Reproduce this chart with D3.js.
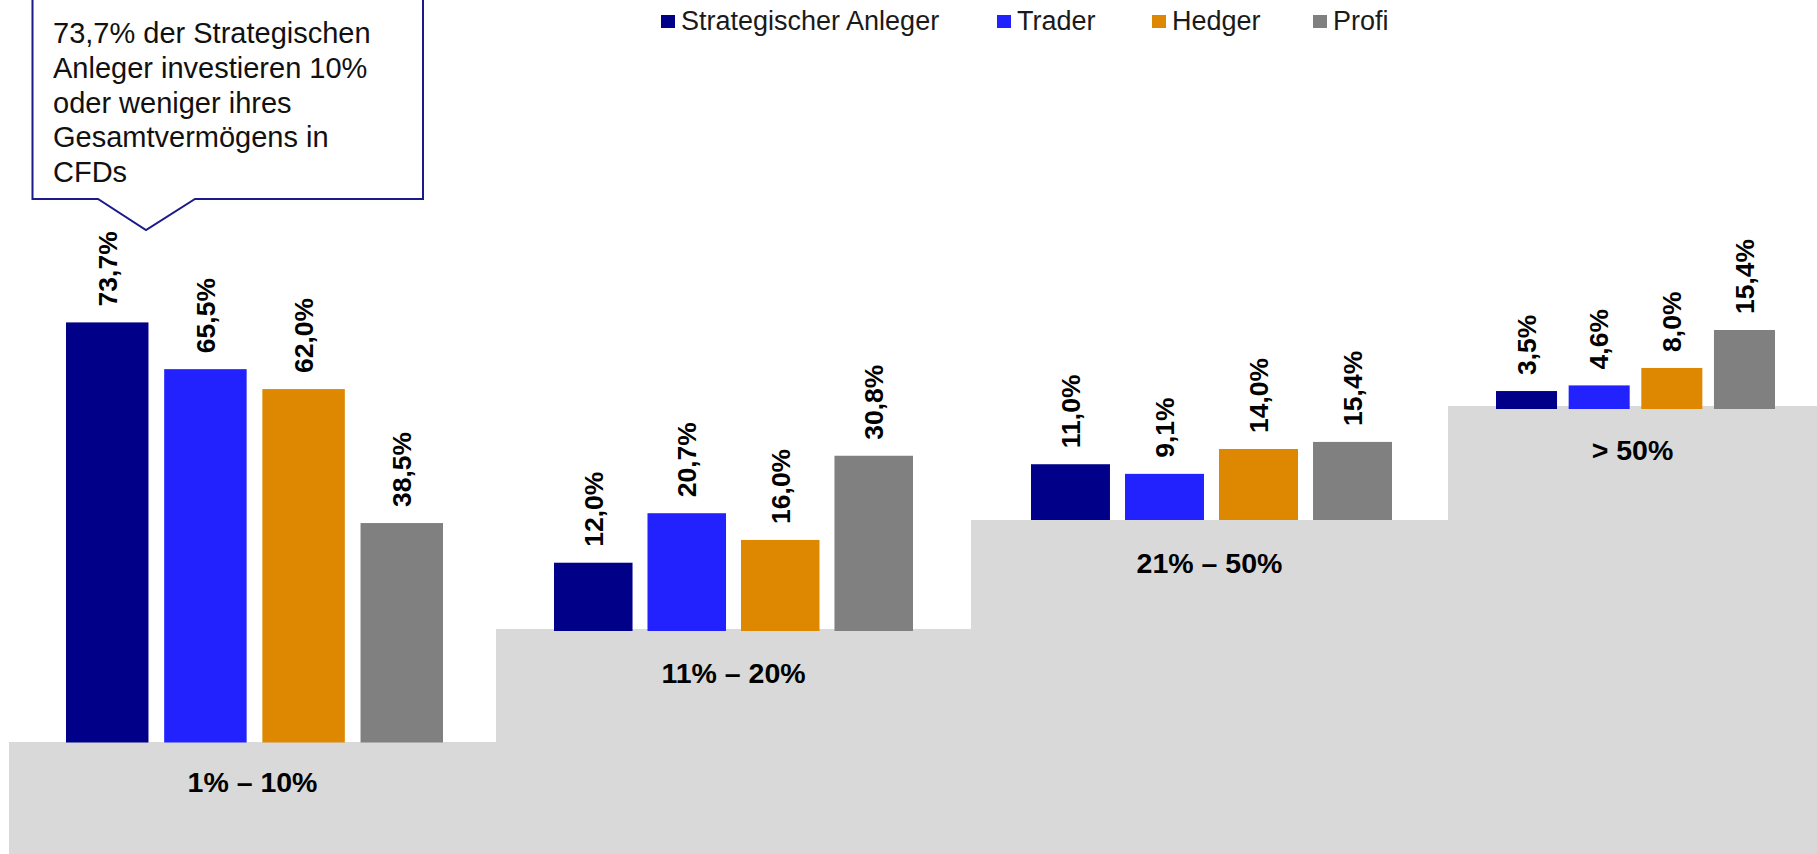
<!DOCTYPE html>
<html>
<head>
<meta charset="utf-8">
<script src="https://cdn.jsdelivr.net/npm/d3@7"></script>
<style>
  html, body { margin: 0; padding: 0; background: #ffffff; }
  svg { display: block; }
  text { font-family: "Liberation Sans", Arial, sans-serif; }
</style>
</head>
<body>
<svg id="chart" width="1817" height="854"></svg>
<script>
// ---- Data ----
const categories = ["1% \u2013 10%", "11% \u2013 20%", "21% \u2013 50%", "> 50%"];
const seriesNames = ["Strategischer Anleger", "Trader", "Hedger", "Profi"];
const strategischerAnleger = [73.7, 12.0, 11.0, 3.5];
const trader = [65.5, 20.7, 9.1, 4.6];
const hedger = [62.0, 16.0, 14.0, 8.0];
const profi = [38.5, 30.8, 15.4, 15.4];
const calloutLines = [
  "73,7% der Strategischen",
  "Anleger investieren 10%",
  "oder weniger ihres",
  "Gesamtverm\u00f6gens in",
  "CFDs"
];

// ---- Styles / layout ----
const colors = ["#000088", "#2222ff", "#dd8800", "#808080"];
const floorColor = "#d9d9d9";
const W = 1817, H = 854;
const layout = [
  { x0: 9,    x1: 496,  floor: 742, base: 742.5, bx0: 66,   bx1: 443,  k: 5.70, labelY: 792 },
  { x0: 496,  x1: 971,  floor: 629, base: 631,   bx0: 554,  bx1: 913,  k: 5.69, labelY: 683 },
  { x0: 971,  x1: 1448, floor: 520, base: 520,   bx0: 1031, bx1: 1392, k: 5.07, labelY: 573 },
  { x0: 1448, x1: 1817, floor: 406, base: 409,   bx0: 1496, bx1: 1775, k: 5.13, labelY: 460 }
];
const legendX = [661, 997, 1152, 1313];

const seriesValues = [strategischerAnleger, trader, hedger, profi];
const svg = d3.select("#chart");
const fmt = v => d3.format(".1f")(v).replace(".", ",") + "%";

// floors
svg.append("g").selectAll("rect")
  .data(layout)
  .join("rect")
  .attr("x", d => d.x0)
  .attr("y", d => d.floor)
  .attr("width", d => d.x1 - d.x0)
  .attr("height", d => H - d.floor)
  .attr("fill", floorColor);

// category labels
svg.append("g").selectAll("text")
  .data(categories)
  .join("text")
  .attr("x", (d, i) => (layout[i].x0 + layout[i].x1) / 2)
  .attr("y", (d, i) => layout[i].labelY)
  .attr("text-anchor", "middle")
  .attr("font-size", "28.5px")
  .attr("font-weight", "bold")
  .attr("fill", "#000")
  .text(d => d);

// bars per category
categories.forEach((cat, gi) => {
  const L = layout[gi];
  const x = d3.scaleBand().domain(seriesNames).range([L.bx0, L.bx1]).paddingInner(0.16).paddingOuter(0);
  const y = d3.scaleLinear().domain([0, 100]).range([L.base, L.base - 100 * L.k]);
  const data = seriesNames.map((s, si) => ({ s, si, v: seriesValues[si][gi] }));
  const g = svg.append("g");
  g.selectAll("rect")
    .data(data)
    .join("rect")
    .attr("x", d => x(d.s))
    .attr("y", d => y(d.v))
    .attr("width", x.bandwidth())
    .attr("height", d => y(0) - y(d.v))
    .attr("fill", d => colors[d.si]);
  g.selectAll("text")
    .data(data)
    .join("text")
    .attr("transform", d => {
      const cx = x(d.s) + x.bandwidth() / 2;
      const ty = y(d.v) - 16;
      return `translate(${cx},${ty}) rotate(-90)`;
    })
    .attr("dy", "0.35em")
    .attr("text-anchor", "start")
    .attr("font-size", "26.5px")
    .attr("font-weight", "bold")
    .attr("fill", "#000")
    .text(d => fmt(d.v));
});

// legend
const legend = svg.append("g");
seriesNames.forEach((name, i) => {
  const lx = legendX[i];
  legend.append("rect")
    .attr("x", lx).attr("y", 15).attr("width", 14).attr("height", 13)
    .attr("fill", colors[i]);
  legend.append("text")
    .attr("x", lx + 20).attr("y", 30)
    .attr("font-size", "27px")
    .attr("fill", "#1a1a1a")
    .text(name);
});

// callout
const callout = svg.append("g");
const bx0 = 32.5, bx1 = 423, by1 = 199, tipX = 146, tipY = 230;
callout.append("path")
  .attr("d", `M${bx0},-5 L${bx0},${by1} L98,${by1} L${tipX},${tipY} L195,${by1} L${bx1},${by1} L${bx1},-5 Z`)
  .attr("fill", "#ffffff")
  .attr("stroke", "#1a1a8a")
  .attr("stroke-width", 2);
callout.selectAll("text")
  .data(calloutLines)
  .join("text")
  .attr("x", 53)
  .attr("y", (d, i) => 43 + i * 34.8)
  .attr("font-size", "29px")
  .attr("fill", "#111")
  .text(d => d);
</script>
</body>
</html>
